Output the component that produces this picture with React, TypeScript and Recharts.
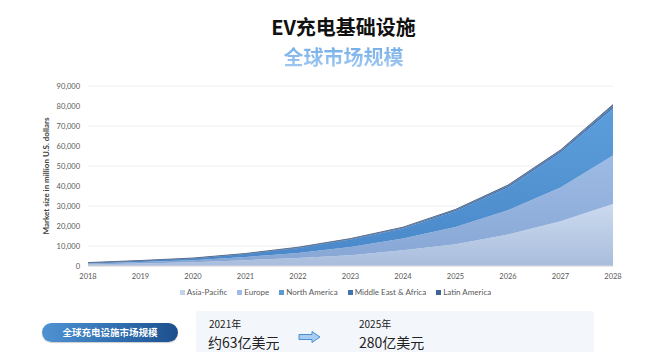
import React from 'react';
import { AreaChart, Area, XAxis, YAxis, CartesianGrid } from 'recharts';

const years = ['2018', '2019', '2020', '2021', '2022', '2023', '2024', '2025', '2026', '2027', '2028'];
const asiaPacific = [800, 1300, 1900, 2900, 4000, 5400, 7900, 10900, 15700, 22400, 31000];
const europe = [500, 700, 1000, 1600, 2500, 4100, 5800, 8600, 12200, 16900, 24300];
const northAmerica = [300, 600, 900, 1500, 2500, 3700, 5000, 7900, 11400, 17300, 23500];
const middleEastAfrica = [70, 90, 120, 160, 250, 330, 450, 600, 750, 900, 1200];
const latinAmerica = [40, 50, 70, 90, 130, 170, 250, 300, 400, 500, 700];
const yTicks = [0, 10000, 20000, 30000, 40000, 50000, 60000, 70000, 80000, 90000];

const series = [
  { key: 'ap', name: 'Asia-Pacific', top: '#cbdaef', bottom: '#a9bddc', legend: '#c3d3ec' },
  { key: 'eu', name: 'Europe', top: '#9dbbe4', bottom: '#87a6d4', legend: '#9dbbe4' },
  { key: 'na', name: 'North America', top: '#5c9edb', bottom: '#4a88c9', legend: '#5b9bd5' },
  { key: 'me', name: 'Middle East & Africa', top: '#3f76b8', bottom: '#3a6aa6', legend: '#3f74b5' },
  { key: 'la', name: 'Latin America', top: '#5b7091', bottom: '#566a88', legend: '#3e6495' },
];

const data = years.map((year, i) => ({
  year,
  ap: asiaPacific[i],
  eu: europe[i],
  na: northAmerica[i],
  me: middleEastAfrica[i],
  la: latinAmerica[i],
}));

const tickStyle = { fontSize: 7.5, fill: '#595959', fontFamily: 'Lato, "Noto Sans", sans-serif' };

function LegendRow() {
  return (
    <div style={{ position: 'absolute', left: 0, width: 661, top: 287, paddingLeft: 10, boxSizing: 'border-box', display: 'flex', justifyContent: 'center', gap: 10, fontFamily: 'Lato, "Noto Sans", sans-serif', fontSize: 8, color: '#595959', lineHeight: '10px' }}>
      {series.map((s) => (
        <div key={s.key} style={{ display: 'flex', alignItems: 'center' }}>
          <span style={{ width: 5, height: 5, background: s.legend, display: 'inline-block', marginRight: 2 }} />
          {s.name}
        </div>
      ))}
    </div>
  );
}

export default function App() {
  return (
    <div style={{ position: 'absolute', left: 0, top: 0, width: 661, height: 352, background: '#fff', overflow: 'hidden', fontFamily: '"Noto Sans CJK SC", "Noto Sans", sans-serif' }}>
      <div style={{ position: 'absolute', left: 0, width: 661, top: 14, textAlign: 'center', paddingLeft: 26, boxSizing: 'border-box', fontSize: 20, fontWeight: 700, color: '#111', lineHeight: '26px' }}>
        EV充电基础设施
      </div>
      <div style={{ position: 'absolute', left: 0, width: 661, top: 43, textAlign: 'center', paddingLeft: 26, boxSizing: 'border-box', fontSize: 20, fontWeight: 700, lineHeight: '28px' }}>
        <span style={{ background: 'linear-gradient(180deg, #6aa8e8 0%, #a9cdf2 100%)', WebkitBackgroundClip: 'text', backgroundClip: 'text', color: 'transparent' }}>全球市场规模</span>
      </div>

      <div style={{ position: 'absolute', left: 0, top: 0 }}>
        <AreaChart width={661} height={290} data={data} margin={{ top: 86, right: 48, left: 0, bottom: 4 }}>
          <defs>
            {series.map((s) => (
              <linearGradient key={s.key} id={`g-${s.key}`} x1="0" y1="0" x2="0" y2="1">
                <stop offset="0%" stopColor={s.top} />
                <stop offset="100%" stopColor={s.bottom} />
              </linearGradient>
            ))}
          </defs>
          <CartesianGrid vertical={false} stroke="#e8ebf1" strokeWidth={0.8} />
          <XAxis
            dataKey="year"
            tick={tickStyle}
            tickLine={false}
            axisLine={{ stroke: '#d9d9d9' }}
            height={20}
            interval={0}
          />
          <YAxis
            width={88}
            domain={[0, 90000]}
            ticks={yTicks}
            tick={tickStyle}
            tickLine={false}
            axisLine={false}
            tickFormatter={(v: number) => v.toLocaleString('en-US')}
            label={{
              value: 'Market size in million U.S. dollars',
              angle: -90,
              position: 'insideLeft',
              offset: 46,
              style: { textAnchor: 'middle', fontSize: 8, fontWeight: 700, fill: '#404040', fontFamily: 'Lato, "Noto Sans", sans-serif' },
            }}
          />
          {series.map((s) => (
            <Area
              key={s.key}
              type="linear"
              dataKey={s.key}
              name={s.name}
              stackId="1"
              stroke={s.key === 'la' ? '#5a6f8e' : 'none'}
              strokeWidth={s.key === 'la' ? 1 : 0}
              fill={`url(#g-${s.key})`}
              fillOpacity={1}
              isAnimationActive={false}
            />
          ))}
        </AreaChart>
      </div>
      <LegendRow />

      <div style={{ position: 'absolute', left: 196, top: 311, width: 398, height: 45, background: '#f3f6fb', borderRadius: 3 }} />
      <div style={{ position: 'absolute', left: 42, top: 323, width: 136, height: 19, borderRadius: 10, background: 'linear-gradient(90deg, #4f92d2 0%, #2d6cae 60%, #1d4f8c 100%)', boxShadow: '0 1px 1px rgba(0,0,0,0.2)', color: '#fff', fontSize: 9.5, fontWeight: 700, textAlign: 'center', lineHeight: '19px' }}>
        全球充电设施市场规模
      </div>
      <div style={{ position: 'absolute', left: 209, top: 318, fontSize: 10, color: '#222', lineHeight: '12px' }}>2021年</div>
      <div style={{ position: 'absolute', left: 208, top: 333, fontSize: 14, color: '#222', lineHeight: '18px' }}>约63亿美元</div>
      <svg style={{ position: 'absolute', left: 298, top: 330 }} width={24} height={14}>
        <path d="M1 4.5 H14 V1.5 L22 7 L14 12.5 V9.5 H1 Z" fill="#a9cdf0" stroke="#4a8fd6" strokeWidth={1} />
      </svg>
      <div style={{ position: 'absolute', left: 359, top: 318, fontSize: 10, color: '#222', lineHeight: '12px' }}>2025年</div>
      <div style={{ position: 'absolute', left: 359, top: 333, fontSize: 14, color: '#222', lineHeight: '18px' }}>280亿美元</div>
    </div>
  );
}
